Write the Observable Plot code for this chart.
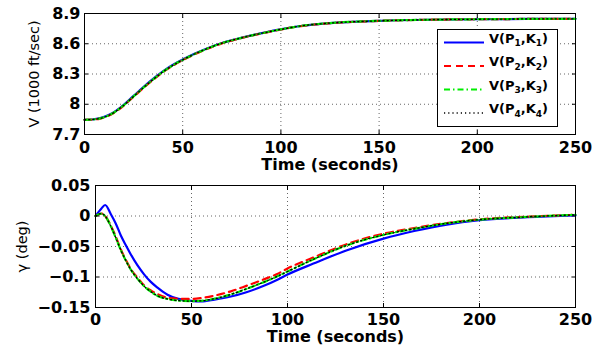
<!DOCTYPE html>
<html>
<head>
<meta charset="utf-8">
<script src="https://cdn.jsdelivr.net/npm/d3@7"></script>
<script src="https://cdn.jsdelivr.net/npm/@observablehq/plot@0.6"></script>
<style>
  html, body { margin: 0; padding: 0; background: #fff; }
  #wrap { position: relative; width: 594px; height: 345px; overflow: hidden; background: #fff; }
  #top, #bot, #legend { position: absolute; left: 0; }
  #top { top: 0; }
  #bot { top: 172px; }
  #legend { top: 0; }
</style>
</head>
<body>
<div id="wrap">
  <div id="top"></div>
  <div id="bot"></div>
  <svg id="legend" width="594" height="140"></svg>
</div>
<script>
// ---- data ----
const seriesNames = ["V(P1,K1)", "V(P2,K2)", "V(P3,K3)", "V(P4,K4)"];
const xTicks = [0, 50, 100, 150, 200, 250];
const vTicks = [7.7, 8, 8.3, 8.6, 8.9];
const vTickLabels = ["7.7", "8", "8.3", "8.6", "8.9"];
const gTicks = [-0.15, -0.1, -0.05, 0, 0.05];
const gTickLabels = ["\u22120.15", "\u22120.1", "\u22120.05", "0", "0.05"];

const tV = [0, 4, 8, 12, 16, 20, 25, 30, 36, 41, 46, 50, 56, 63, 70, 77, 84, 91, 99, 110, 125, 150, 175, 200, 225, 250];
const V1 = [7.846, 7.849, 7.862, 7.89, 7.935, 7.995, 8.083, 8.17, 8.268, 8.341, 8.401, 8.443, 8.50, 8.558, 8.608, 8.645, 8.678, 8.708, 8.74, 8.776, 8.805, 8.827, 8.838, 8.843, 8.846, 8.847];
const V2 = [7.846, 7.848, 7.858, 7.884, 7.927, 7.987, 8.074, 8.161, 8.259, 8.333, 8.394, 8.437, 8.495, 8.554, 8.604, 8.642, 8.676, 8.706, 8.738, 8.775, 8.804, 8.827, 8.838, 8.843, 8.846, 8.847];
const V3 = [7.846, 7.849, 7.86, 7.887, 7.931, 7.991, 8.078, 8.165, 8.263, 8.337, 8.398, 8.44, 8.498, 8.556, 8.606, 8.644, 8.677, 8.707, 8.739, 8.776, 8.805, 8.827, 8.838, 8.843, 8.846, 8.847];
const V4 = [7.846, 7.849, 7.86, 7.886, 7.93, 7.99, 8.077, 8.164, 8.262, 8.336, 8.397, 8.44, 8.498, 8.556, 8.606, 8.644, 8.677, 8.707, 8.739, 8.776, 8.805, 8.827, 8.838, 8.843, 8.846, 8.847];

const tG = [0, 3, 5, 8, 10.6, 13.2, 15.8, 18.4, 21.9, 25.3, 28.8, 32.3, 37.5, 42.7, 49.7, 55, 62, 70.5, 79, 88, 95, 100, 113.5, 131, 150, 166, 183, 200, 225, 250];
const G1 = [0, 0.012, 0.018, 0.003, -0.0126, -0.032, -0.048, -0.063, -0.081, -0.0956, -0.108, -0.1175, -0.129, -0.1355, -0.139, -0.14, -0.137, -0.132, -0.1245, -0.114, -0.104, -0.096, -0.078, -0.056, -0.037, -0.0246, -0.014, -0.007, -0.002, 0.001];
const G2 = [0, 0.004, 0.0, -0.016, -0.034, -0.055, -0.072, -0.087, -0.101, -0.1137, -0.122, -0.128, -0.134, -0.1355, -0.136, -0.1345, -0.1305, -0.1235, -0.114, -0.1035, -0.0945, -0.086, -0.068, -0.046, -0.029, -0.0197, -0.0115, -0.0055, -0.001, 0.002];
const G3 = [0, 0.004, 0.0, -0.017, -0.036, -0.056, -0.073, -0.088, -0.103, -0.115, -0.124, -0.131, -0.136, -0.1385, -0.1395, -0.139, -0.1355, -0.1285, -0.119, -0.108, -0.0985, -0.091, -0.071, -0.048, -0.031, -0.021, -0.012, -0.006, -0.0015, 0.002];
const G4 = [0, 0.004, 0.0, -0.017, -0.036, -0.056, -0.073, -0.088, -0.103, -0.115, -0.124, -0.131, -0.136, -0.1385, -0.1395, -0.139, -0.1355, -0.1285, -0.119, -0.108, -0.0985, -0.091, -0.071, -0.048, -0.031, -0.021, -0.012, -0.006, -0.0015, 0.002];

// ---- styles ----
const styles = [
  {stroke: "#0000ff", dash: null},
  {stroke: "#ff0000", dash: "7,5"},
  {stroke: "#00ee00", dash: "6,3,1.5,3"},
  {stroke: "#000000", dash: "1.2,3"}
];
const FONT = "'DejaVu Sans', sans-serif";

function rows(t, ys) { return t.map((x, i) => ({t: x, v: ys[i]})); }

function lineMarks(t, arrs) {
  return arrs.map((ys, k) => Plot.line(rows(t, ys), {
    x: "t", y: "v", stroke: styles[k].stroke, strokeWidth: k === 3 ? 1.3 : 2.2,
    strokeDasharray: styles[k].dash, curve: "monotone-x"
  }));
}

function panel({yDomain, yTicks, yLabels, t, arrs, marginLeft, height, marginBottom, background, ylabel, ylabelDx, xPad, xLabelDy}) {
  const fmt = d => yLabels[yTicks.findIndex(v => Math.abs(v - d) < 1e-9)];
  return Plot.plot({
    width: 594, height,
    marginLeft, marginRight: 19, marginTop: 13, marginBottom,
    x: {domain: [0, 250]},
    y: {domain: yDomain},
    style: {fontFamily: FONT, fontSize: "16px", fontWeight: "bold", background, color: "#000"},
    marks: [
      Plot.gridX(xTicks, {stroke: "#000", strokeOpacity: 0.6, strokeDasharray: "1,3"}),
      Plot.gridY(yTicks, {stroke: "#000", strokeOpacity: 0.6, strokeDasharray: "1,3"}),
      ...lineMarks(t, arrs),
      Plot.frame({stroke: "#000", strokeWidth: 1}),
      Plot.axisX({ticks: xTicks, tickSize: 0, tickPadding: xPad, label: null, tickFormat: d => String(d)}),
      Plot.axisX({anchor: "top", ticks: xTicks, tickSize: -4, label: null, tickFormat: () => ""}),
      Plot.axisX({anchor: "bottom", ticks: xTicks, tickSize: -4, label: null, tickFormat: () => ""}),
      Plot.axisY({ticks: yTicks, tickSize: 0, tickPadding: marginLeft > 90 ? 5 : 4, label: null, tickFormat: fmt}),
      Plot.axisY({anchor: "right", ticks: yTicks, tickSize: -4, label: null, tickFormat: () => ""}),
      Plot.axisY({anchor: "left", ticks: yTicks, tickSize: -4, label: null, tickFormat: () => ""}),
      Plot.text(["Time (seconds)"], {frameAnchor: "bottom", dy: xLabelDy, lineAnchor: "top", textAnchor: "middle",
        fontSize: 16, fontWeight: "bold", fill: "#000"}),
      Plot.text([ylabel], {frameAnchor: "left", dx: ylabelDx, rotate: -90, lineAnchor: "middle", textAnchor: "middle",
        fontSize: 14.5, fontWeight: "normal", fill: "#000"})
    ]
  });
}

document.getElementById("top").append(panel({
  yDomain: [7.7, 8.9], yTicks: vTicks, yLabels: vTickLabels, t: tV, arrs: [V1, V2, V3, V4],
  marginLeft: 84, height: 180, marginBottom: 46, background: "#fff",
  ylabel: "V (1000 ft/sec)", ylabelDx: -50, xPad: 7.5, xLabelDy: 24.5
}));
document.getElementById("bot").append(panel({
  yDomain: [-0.15, 0.05], yTicks: gTicks, yLabels: gTickLabels, t: tG, arrs: [G1, G2, G3, G4],
  marginLeft: 95, height: 173, marginBottom: 38, background: "none",
  ylabel: "\u03b3 (deg)", ylabelDx: -73, xPad: 6.5, xLabelDy: 23.5
}));

// ---- legend ----
const leg = d3.select("#legend");
leg.append("rect").attr("x", 437.5).attr("y", 29.5).attr("width", 120).attr("height", 97)
  .attr("fill", "#fff").attr("stroke", "#000").attr("stroke-width", 1);
const rowY = [42.5, 66, 89.5, 113];
seriesNames.forEach((name, i) => {
  const y = rowY[i];
  leg.append("line").attr("x1", 444).attr("x2", 484).attr("y1", y).attr("y2", y)
    .attr("stroke", styles[i].stroke).attr("stroke-width", i === 3 ? 1.3 : 2)
    .attr("stroke-dasharray", styles[i].dash);
  const m = name.match(/V\(P(\d),K(\d)\)/);
  const tx = leg.append("text").attr("x", 489).attr("y", y)
    .attr("font-family", FONT).attr("font-weight", "bold").attr("font-size", 13).attr("fill", "#000");
  tx.append("tspan").text("V(P");
  tx.append("tspan").attr("dy", 3.5).attr("font-size", 9).text(m[1]);
  tx.append("tspan").attr("dy", -3.5).text(",K");
  tx.append("tspan").attr("dy", 3.5).attr("font-size", 9).text(m[2]);
  tx.append("tspan").attr("dy", -3.5).text(")");
});
</script>
</body>
</html>
